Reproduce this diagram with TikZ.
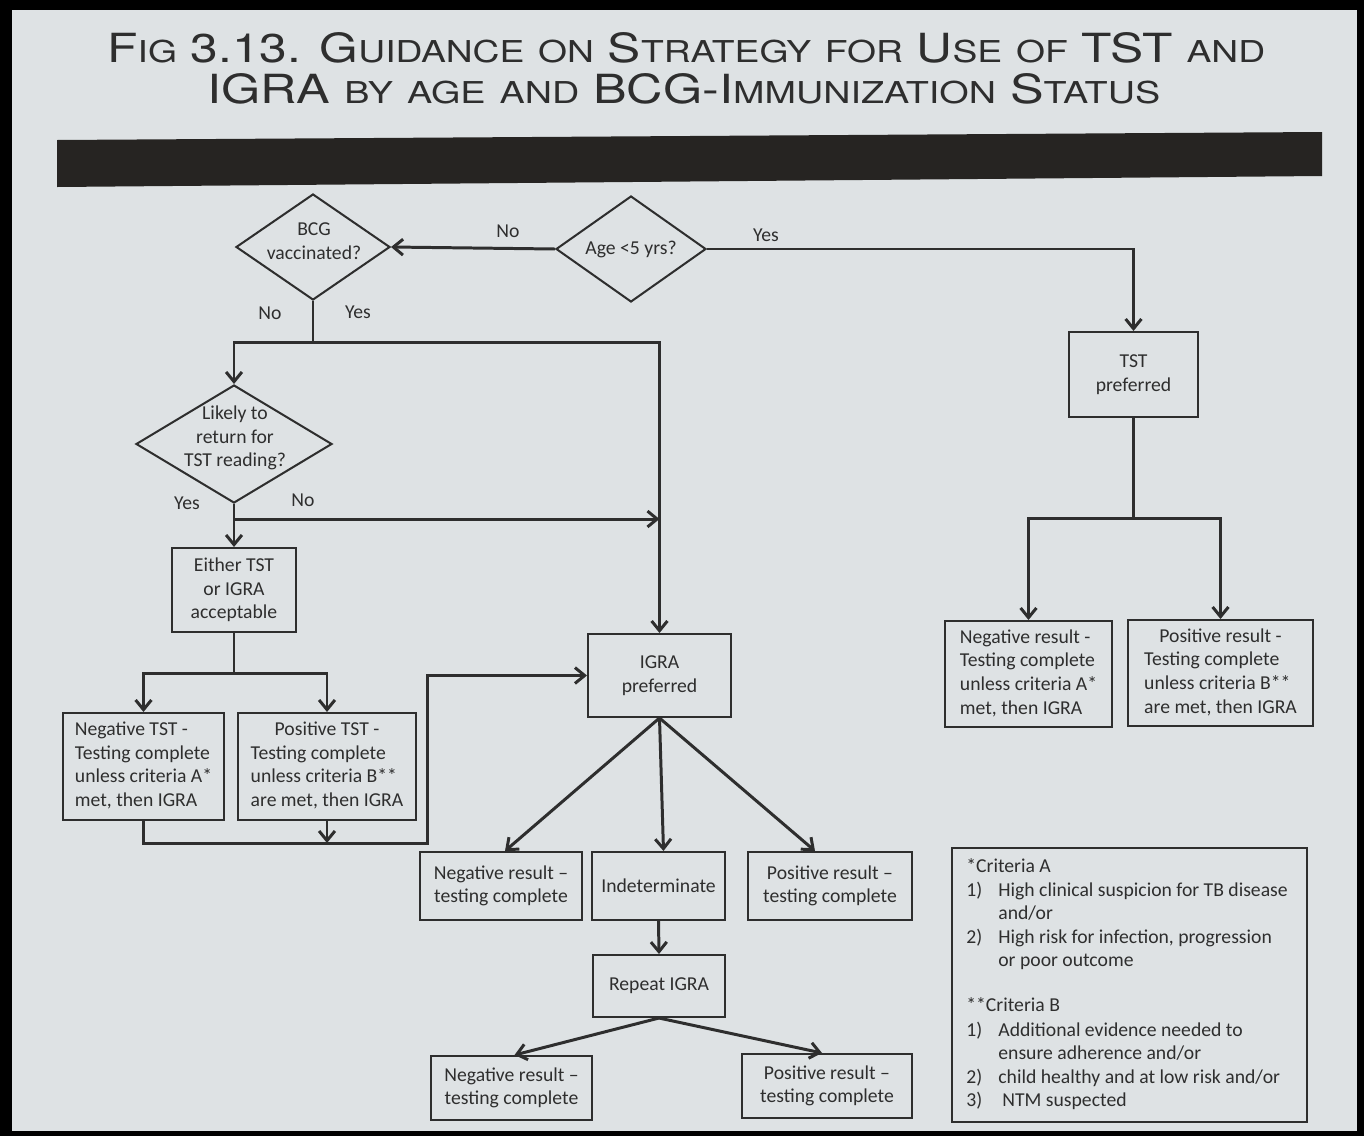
\documentclass[tikz,border=0pt]{standalone}
\usepackage{fontspec}
\setmainfont{Carlito}
\newfontfamily\titlefont{TeX Gyre Heros}
\usetikzlibrary{arrows.meta,shapes.geometric,calc}
\definecolor{bg}{HTML}{DEE2E4}
\definecolor{ink}{HTML}{2E2E2E}
\definecolor{barC}{HTML}{262422}
\newcommand\fs{\fontsize{11.2}{13.4}\selectfont}
\newcommand\Bg[1]{{\fontsize{24}{24}\selectfont #1}}
\newcommand\Sm[1]{{\fontsize{18}{18}\selectfont #1}}
\begin{document}
\begin{tikzpicture}[x=0.02cm,y=-0.02cm,
 px/.style 2 args={minimum width=#1*0.02cm, minimum height=#2*0.02cm},
 bx/.style={draw=ink, line width=1.15pt, inner sep=0pt, text=ink, font=\fs, align=center},
 dia/.style={diamond, draw=ink, line width=1.15pt, inner sep=0pt},
 txt/.style={text=ink, font=\fs, align=center, inner sep=0pt},
 lbl/.style={text=ink, font=\fs, inner sep=0pt},
 crit/.style={text=ink, font=\fs, inner sep=0pt, anchor=base west},
 wire/.style={draw=ink, line width=1.7pt},
 arr/.style={wire, -{Straight Barb[length=5.5pt,width=9pt]}},
]
\useasboundingbox (0,0) rectangle (1364,1136);
\fill[black] (0,0) rectangle (1364,1136);
\fill[bg] (12,10) rectangle (1357,1131);
% title
\node[anchor=base west, inner sep=0pt, text=ink, font=\titlefont] (t1) at (107,62)
 {\resizebox{23.16cm}{0.6cm}{\fontsize{24}{24}\selectfont\Bg{F}\Sm{IG} \Bg{3.13.} \Bg{G}\Sm{UIDANCE} \Sm{ON} \Bg{S}\Sm{TRATEGY} \Sm{FOR} \Bg{U}\Sm{SE} \Sm{OF} \Bg{TST} \Sm{AND}}};
\node[anchor=base west, inner sep=0pt, text=ink, font=\titlefont] (t2) at (207,103)
 {\resizebox{19.06cm}{0.6cm}{\fontsize{24}{24}\selectfont\Bg{IGRA} \Sm{BY} \Sm{AGE} \Sm{AND} \Bg{BCG-I}\Sm{MMUNIZATION} \Bg{S}\Sm{TATUS}}};
\fill[barC] (57,140) -- (1322,132) -- (1322,176) -- (57,187) -- cycle;

% diamonds
\node[dia, px={154}{106}] (bcg) at (313,247) {};
\node[txt] (bcgt) at (314,241) {BCG\\vaccinated?};
\node[dia, px={150}{106}] (age) at (631,249) {};
\node[txt] (aget) at (631,249) {Age <5 yrs?};
\node[dia, px={196}{118}] (likely) at (234,444) {};
\node[txt] (likelyt) at (235,438) {Likely to\\return for\\TST reading?};

% boxes
\node[bx, px={124}{84}] (either) at (234,590) {Either TST\\or IGRA\\acceptable};
\node[bx, px={161}{107}] (negtst) at (143.5,766.5) {\begin{tabular}{@{}l@{}}Negative TST -\\Testing complete\\unless criteria A*\\met, then IGRA\end{tabular}};
\node[bx, px={178}{107}] (postst) at (327,766.5) {\begin{tabular}{@{}l@{}}\multicolumn{1}{@{}c@{}}{Positive TST -}\\Testing complete\\unless criteria B**\\are met, then IGRA\end{tabular}};
\node[bx, px={143}{83}] (igra) at (659.5,675.5) {IGRA\\preferred};
\node[bx, px={162}{68}] (negres) at (501,886) {Negative result --\\testing complete};
\node[bx, px={133}{68}] (indet) at (658.5,886) {Indeterminate};
\node[bx, px={164}{68}] (posres) at (830,886) {Positive result --\\testing complete};
\node[bx, px={132}{62}] (rep) at (659,986) {Repeat IGRA};
\node[bx, px={161}{64}] (negres2) at (511.5,1088) {Negative result --\\testing complete};
\node[bx, px={170}{64}] (posres2) at (827,1086) {Positive result --\\testing complete};
\node[bx, px={129}{85}] (tst) at (1133.5,374.5) {TST\\preferred};
\node[bx, px={167}{106}] (negr) at (1028.5,674) {\begin{tabular}{@{}l@{}}Negative result -\\Testing complete\\unless criteria A*\\met, then IGRA\end{tabular}};
\node[bx, px={185}{106}] (posr) at (1220.5,673) {\begin{tabular}{@{}l@{}}\multicolumn{1}{@{}c@{}}{Positive result -}\\Testing complete\\unless criteria B**\\are met, then IGRA\end{tabular}};
\node[bx, px={355}{274}] (critbox) at (1129.5,985) {};
\node[crit] (c1) at (966,872) {*Criteria A};
\node[crit] (c2a) at (966,896) {1)};
\node[crit] (c2) at (998,896) {High clinical suspicion for TB disease};
\node[crit] (c3) at (998,919) {and/or};
\node[crit] (c4a) at (966,943) {2)};
\node[crit] (c4) at (998,943) {High risk for infection, progression};
\node[crit] (c5) at (998,966) {or poor outcome};
\node[crit] (c6) at (966,1011) {**Criteria B};
\node[crit] (c7a) at (966,1036) {1)};
\node[crit] (c7) at (998,1036) {Additional evidence needed to};
\node[crit] (c8) at (998,1059) {ensure adherence and/or};
\node[crit] (c9a) at (966,1083) {2)};
\node[crit] (c9) at (998,1083) {child healthy and at low risk and/or};
\node[crit] (c10a) at (966,1106) {3)};
\node[crit] (c10) at (1002,1106) {NTM suspected};

% coordinates
\coordinate (j1) at (313,342);
\coordinate (j2) at (234,519);
\coordinate (j3) at (659.5,519);
\coordinate (j4) at (234,673);
\coordinate (j5) at (427,843);
\coordinate (j6) at (327,843);
\coordinate (j7) at (1133.5,518);

% connectors
\draw[arr] (age.west) -- (bcg.east);
\draw[arr] (age.east) -| (tst.north);
\draw[wire] (bcg.south) -- (j1);
\draw[arr] (j1) -| (likely.north);
\draw[arr] (j1) -| (igra.north);
\draw[arr] (likely.south) -- (either.north);
\draw[arr] (j2) -- (j3);
\draw[wire] (either.south) -- (j4);
\draw[arr] (j4) -| (negtst.north);
\draw[arr] (j4) -| (postst.north);
\draw[arr] (negtst.south) |- (j5) |- (igra.west);
\draw[arr] (postst.south) -- (j6);
\draw[arr] (igra.south) -- ($(negres.north)+(4,0)$);
\draw[arr] (igra.south) -- ($(indet.north)+(5,0)$);
\draw[arr] (igra.south) -- ($(posres.north)+(-15,0)$);
\draw[arr] (indet.south) -- (rep.north);
\draw[arr] (rep.south) -- ($(negres2.north)+(3,0)$);
\draw[arr] (rep.south) -- ($(posres2.north)+(-5,0)$);
\draw[wire] (tst.south) -- (j7);
\draw[arr] (j7) -| (negr.north);
\draw[arr] (j7) -| (posr.north);

% labels
\node[lbl] (l1) at (508,231) {No};
\node[lbl] (l2) at (766,235) {Yes};
\node[lbl] (l3) at (270,313) {No};
\node[lbl] (l4) at (358,312) {Yes};
\node[lbl] (l5) at (187,503) {Yes};
\node[lbl] (l6) at (303,500) {No};
\end{tikzpicture}
\end{document}
